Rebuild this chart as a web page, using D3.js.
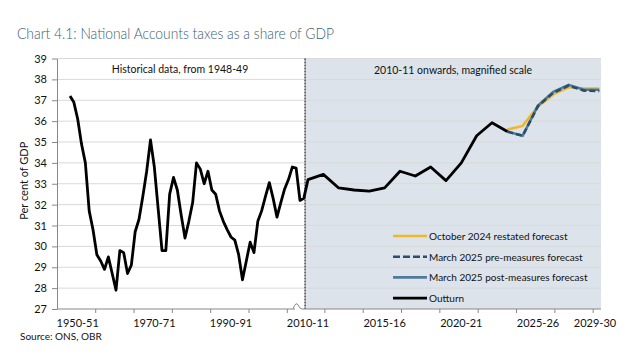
<!DOCTYPE html>
<html>
<head>
<meta charset="utf-8">
<script src="https://cdn.jsdelivr.net/npm/d3@7"></script>
<style>
  body { margin: 0; background: #fff; }
  svg text { font-family: Lato, "DejaVu Sans", sans-serif; }
</style>
</head>
<body>
<div id="chart"></div>
<script>
// historical outturn, 1948-49 to 2009-10 (compressed scale)
var histYears = d3.range(1948, 2010);
var histValues = [37.2, 36.9, 36.1, 34.9, 34.0, 31.7, 30.8, 29.6, 29.3, 28.9,
                  29.5, 28.7, 27.9, 29.8, 29.7, 28.7, 29.1, 30.7, 31.3, 32.4,
                  33.6, 35.1, 33.8, 31.8, 29.8, 29.8, 32.5, 33.3, 32.7, 31.5,
                  30.4, 31.2, 32.1, 34.0, 33.7, 33.0, 33.6, 32.7, 32.5, 31.7,
                  31.2, 30.8, 30.45, 30.3, 29.6, 28.4, 29.3, 30.2, 29.7, 31.2,
                  31.7, 32.4, 33.05, 32.3, 31.4, 32.1, 32.75, 33.2, 33.8, 33.75,
                  32.2, 32.3];

// outturn from 2010-11 (magnified scale)
var recentYears = d3.range(2010, 2024);
var recentValues = [33.2, 33.45, 32.8, 32.7, 32.65, 32.8, 33.6, 33.37, 33.8, 33.15,
                    34.0, 35.3, 35.92, 35.5];

// forecasts, 2023-24 to 2029-30
var fcYears = d3.range(2023, 2030);
var oct2024 = [35.6, 35.77, 36.7, 37.28, 37.62, 37.56, 37.56];
var marPre = [35.5, 35.3, 36.72, 37.36, 37.7, 37.46, 37.44];
var marPost = [35.5, 35.3, 36.75, 37.4, 37.74, 37.5, 37.5];

var yTicks = d3.range(27, 40);
var xLabels = [[1950, "1950-51"], [1970, "1970-71"], [1990, "1990-91"], [2010, "2010-11"],
               [2015, "2015-16"], [2020, "2020-21"], [2025, "2025-26"], [2029, "2029-30"]];
var xTickMarks = [1954.7, 1964.7, 1974.7, 1984.7, 1994.7, 2004.7,
                  2011.1, 2013.6, 2016.1, 2018.6, 2021.1, 2023.6, 2026.1, 2028.6];
var splitYear = 2009.3;

var W = 634, H = 359;
var pLeft = 57, pRight = 601, pTop = 58.5, pBottom = 309;

var svg = d3.select("#chart").append("svg")
    .attr("width", W)
    .attr("height", H);

var x = d3.scaleLinear()
    .domain([1944.6, 2009, 2010, 2029.11])
    .range([pLeft, 303.8, 308, pRight]);

var y = d3.scaleLinear()
    .domain([27, 39])
    .range([pBottom, pTop]);

// title
svg.append("text")
  .attr("x", 17)
  .attr("y", 39)
  .attr("font-size", "15px")
  .attr("font-weight", 300)
  .attr("fill", "#3b6276")
  .attr("textLength", 317)
  .attr("lengthAdjust", "spacingAndGlyphs")
  .text("Chart 4.1: National Accounts taxes as a share of GDP");

// shaded magnified panel
svg.append("rect")
  .attr("x", x(splitYear))
  .attr("y", pTop)
  .attr("width", pRight - x(splitYear))
  .attr("height", pBottom - pTop)
  .attr("fill", "#dce3ea");

// gridlines
svg.selectAll("line.grid")
  .data(yTicks.slice(1))
  .enter()
    .append("line")
    .attr("class", "grid")
    .attr("x1", pLeft)
    .attr("x2", pRight)
    .attr("y1", function (d) { return y(d); })
    .attr("y2", function (d) { return y(d); })
    .attr("stroke", "#d9d9d9")
    .attr("stroke-width", 1);

// panel divider
svg.append("line")
  .attr("x1", x(splitYear))
  .attr("x2", x(splitYear))
  .attr("y1", pTop)
  .attr("y2", pBottom)
  .attr("stroke", "#222")
  .attr("stroke-width", 1.2)
  .attr("stroke-dasharray", "2,1");

// y axis
var yAxis = svg.append("g")
  .attr("transform", "translate(" + pLeft + ",0)")
  .call(d3.axisLeft(y).tickValues(yTicks).tickSize(5).tickSizeOuter(0).tickPadding(5));
yAxis.selectAll("text").attr("font-size", "11px").attr("fill", "#111").style("font-family", "Lato, sans-serif");
yAxis.selectAll("line").attr("stroke", "#888");
yAxis.select(".domain").attr("stroke", "#888");

svg.append("text")
  .attr("transform", "translate(28," + ((pTop + pBottom) / 2 - 3) + ") rotate(-90)")
  .attr("text-anchor", "middle")
  .attr("font-size", "11px")
  .attr("fill", "#111")
  .text("Per cent of GDP");

// x axis
var xAxis = svg.append("g")
  .attr("transform", "translate(0," + pBottom + ")");
xAxis.append("line")
  .attr("x1", pLeft).attr("x2", 295)
  .attr("stroke", "#888");
xAxis.append("line")
  .attr("x1", 302).attr("x2", pRight)
  .attr("stroke", "#888");
xAxis.append("path")
  .attr("d", "M293,0 Q296,-8 298,-4 T302,0")
  .attr("fill", "none")
  .attr("stroke", "#888");
xAxis.selectAll("line.tick")
  .data(xTickMarks)
  .enter()
    .append("line")
    .attr("class", "tick")
    .attr("x1", function (d) { return x(d); })
    .attr("x2", function (d) { return x(d); })
    .attr("y1", 0)
    .attr("y2", 4)
    .attr("stroke", "#888");
xAxis.selectAll("text")
  .data(xLabels)
  .enter()
    .append("text")
    .attr("x", function (d) { return Math.min(x(d[0]), pRight - 6); })
    .attr("y", 18)
    .attr("text-anchor", "middle")
    .attr("font-size", "11px")
    .attr("fill", "#111")
    .text(function (d) { return d[1]; });

// panel notes
svg.append("text")
  .attr("x", 180).attr("y", 73)
  .attr("text-anchor", "middle")
  .attr("font-size", "10.5px")
  .attr("fill", "#111")
  .text("Historical data, from 1948-49");
svg.append("text")
  .attr("x", 453).attr("y", 74)
  .attr("text-anchor", "middle")
  .attr("font-size", "10.5px")
  .attr("fill", "#111")
  .text("2010-11 onwards, magnified scale");

var line = d3.line()
  .x(function (d) { return x(d[0]); })
  .y(function (d) { return y(d[1]); });

var series = [
  {name: "October 2024 restated forecast", values: oct2024, color: "#f0b828", dash: null},
  {name: "March 2025 pre-measures forecast", values: marPre, color: "#2c4e6b", dash: "6,3"},
  {name: "March 2025 post-measures forecast", values: marPost, color: "#4e7b9b", dash: null}
];

// forecast lines (post under pre so the dashes show)
[series[0], series[2], series[1]].forEach(function (s) {
  svg.append("path")
    .datum(d3.zip(fcYears, s.values))
    .attr("d", line)
    .attr("fill", "none")
    .attr("stroke", s.color)
    .attr("stroke-width", 2.6)
    .attr("stroke-dasharray", s.dash);
});

// outturn
svg.append("path")
  .datum(d3.zip(histYears.concat(recentYears), histValues.concat(recentValues)))
  .attr("d", line)
  .attr("fill", "none")
  .attr("stroke", "#000")
  .attr("stroke-width", 2.8)
  .attr("stroke-linejoin", "round");

// legend
var legendItems = series.concat([{name: "Outturn", color: "#000", dash: null}]);
var legend = svg.selectAll("g.legend")
  .data(legendItems)
  .enter()
    .append("g")
    .attr("class", "legend")
    .attr("transform", function (d, i) { return "translate(393," + (236 + i * 20.7) + ")"; });
legend.append("line")
  .attr("x1", 0).attr("x2", 34)
  .attr("stroke", function (d) { return d.color; })
  .attr("stroke-width", 2.6)
  .attr("stroke-dasharray", function (d) { return d.dash ? "7,3" : null; });
legend.append("text")
  .attr("x", 36)
  .attr("y", 4)
  .attr("font-size", "10px")
  .attr("fill", "#111")
  .text(function (d) { return d.name; });

// source
svg.append("text")
  .attr("x", 20).attr("y", 340)
  .attr("font-size", "10px")
  .attr("fill", "#111")
  .text("Source: ONS, OBR");
</script>
</body>
</html>
